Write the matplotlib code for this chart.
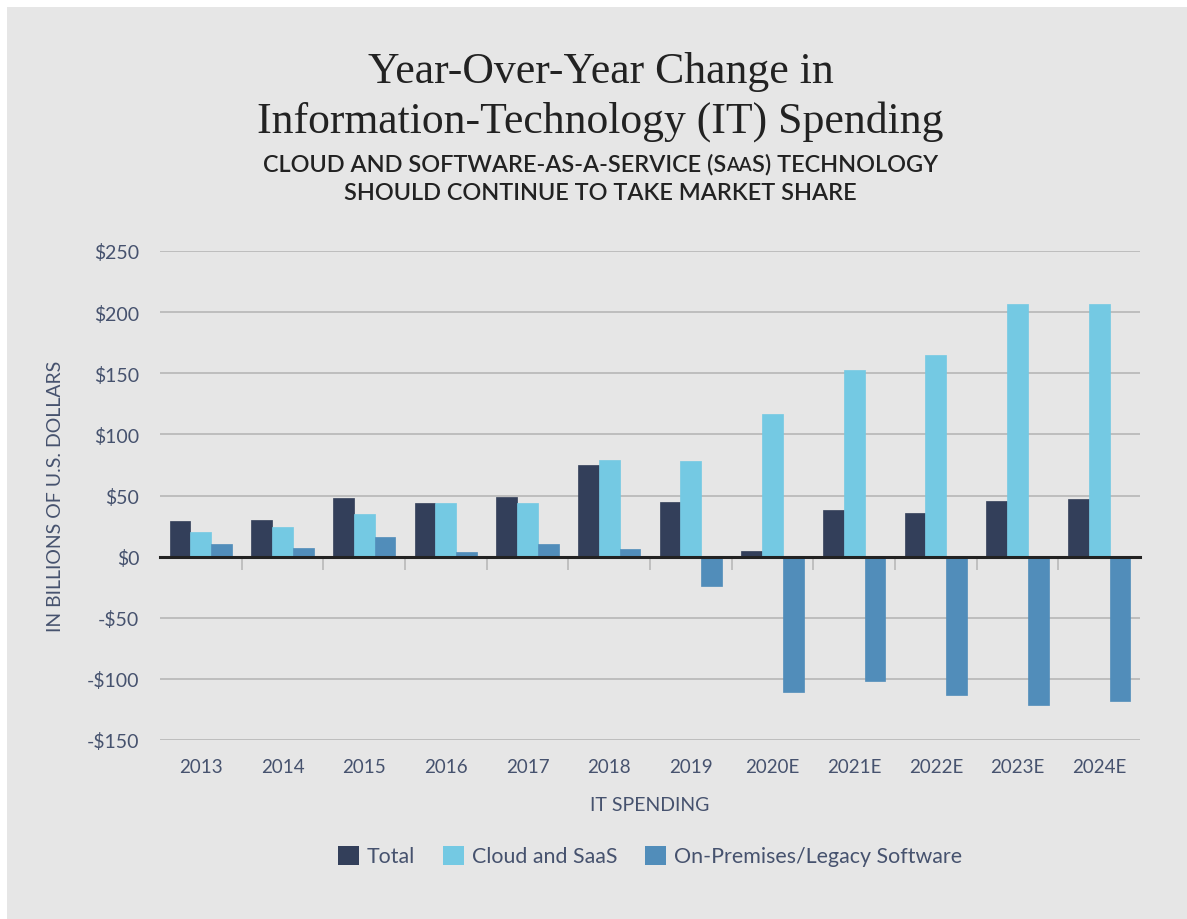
import numpy as np
import matplotlib
matplotlib.use('Agg')
import matplotlib.pyplot as plt
from matplotlib.patches import Patch, Rectangle

# 數據 (十億美元)
years = ['2013', '2014', '2015', '2016', '2017', '2018', '2019',
         '2020E', '2021E', '2022E', '2023E', '2024E']
total = [29, 30, 48, 44, 49, 75, 45, 4.5, 38, 35.5, 45.5, 47]
cloud_saas = [20, 24, 35, 44, 44, 79, 78, 117, 152.5, 165, 206.5, 206.5]
on_prem = [10, 7, 16, 3.5, 10, 6, -24, -111, -102, -113, -121.5, -118]
yticks = [-150, -100, -50, 0, 50, 100, 150, 200, 250]

series_names = ['Total', 'Cloud and SaaS', 'On-Premises/Legacy Software']
colors = ['#333f5a', '#74c9e3', '#518dba']

bg = '#e6e6e6'
slate = '#46526e'
sans = ['Lato', 'DejaVu Sans']

plt.rcParams['font.family'] = sans

fig = plt.figure(figsize=(11.87, 9.2), dpi=100, facecolor='white')
# 灰色背景 (左上有白邊)
fig.patches.append(Rectangle((7 / 1187, 0), 1 - 7 / 1187, 1 - 8 / 920,
                             transform=fig.transFigure, facecolor=bg,
                             edgecolor='none', zorder=-10))

ax = fig.add_axes([160 / 1187, 1 - 741 / 920, 980 / 1187, 489 / 920])
ax.set_facecolor('none')

x = np.arange(len(years))
w = 0.255
for k, (vals, name, c) in enumerate(zip([total, cloud_saas, on_prem], series_names, colors)):
    ax.bar(x + (k - 1) * w, vals, width=w, color=c, edgecolor=c, linewidth=0.5,
           zorder=3, label=name)

ax.set_xlim(-0.5, len(years) - 0.5)
ax.set_ylim(-150, 250)
ax.set_yticks(yticks)
ax.set_yticklabels([('-$%d' % -v) if v < 0 else ('$%d' % v) for v in yticks])
ax.tick_params(axis='y', length=0, pad=15, labelsize=14, labelcolor=slate)
ax.grid(axis='y', color='#bdbdbd', linewidth=1.4, zorder=0)

for s in ['top', 'right', 'left']:
    ax.spines[s].set_visible(False)
# 零線 + 類別分隔刻度
ax.spines['bottom'].set_position(('data', 0))
ax.spines['bottom'].set_color('#222222')
ax.spines['bottom'].set_linewidth(2.2)
ax.spines['bottom'].set_zorder(4)
ax.set_xticks(np.arange(0.5, len(years) - 1, 1.0))
ax.tick_params(axis='x', length=9, width=1.3, color='#bdbdbd', labelbottom=False)

# 類別標籤放在底部
sec = ax.secondary_xaxis('bottom')
sec.set_xticks(x)
sec.set_xticklabels(years)
sec.tick_params(length=0, pad=13, labelsize=13.5, labelcolor=slate)
sec.spines['bottom'].set_visible(False)
sec.set_xlabel('IT SPENDING', fontsize=14, color=slate, labelpad=15)

ax.set_ylabel('IN BILLIONS OF U.S. DOLLARS', fontsize=14, color=slate)
ax.yaxis.set_label_coords(-0.098, 0.5)

# 標題
fig.text(0.506, 1 - 83 / 920, 'Year-Over-Year Change in', ha='center', va='baseline',
         fontsize=31.5, family=['Liberation Serif'], color='#222222')
fig.text(0.506, 1 - 133 / 920, 'Information-Technology (IT) Spending', ha='center',
         va='baseline', fontsize=31.5, family=['Liberation Serif'], color='#222222')

# 副標題, SaaS 用小型大寫字母
fig.canvas.draw()
renderer = fig.canvas.get_renderer()
sub_fs = 16.9
parts = [('CLOUD AND SOFTWARE-AS-A-SERVICE (S', sub_fs), ('AA', sub_fs * 0.8), ('S) TECHNOLOGY', sub_fs)]
texts = [fig.text(0, 1 - 171 / 920, p, fontsize=fs, weight='semibold', color='#222222',
                  va='baseline', ha='left') for p, fs in parts]
widths = [t.get_window_extent(renderer).width for t in texts]
xpos = 0.506 * fig.bbox.width - sum(widths) / 2
for t, wd in zip(texts, widths):
    t.set_x(xpos / fig.bbox.width)
    xpos += wd
fig.text(0.506, 1 - 200 / 920, 'SHOULD CONTINUE TO TAKE MARKET SHARE', ha='center',
         va='baseline', fontsize=sub_fs, weight='semibold', color='#222222')

handles = [Patch(facecolor=c, edgecolor='none', label=n) for c, n in zip(colors, series_names)]
fig.legend(handles=handles, loc='center', bbox_to_anchor=(650 / 1187, 1 - 857 / 920),
           ncol=3, frameon=False, fontsize=15.4, labelcolor=slate, handlelength=1.0,
           handleheight=1.0, handletextpad=0.35, columnspacing=1.3)

fig.savefig('out.png', dpi=100, facecolor=fig.get_facecolor())
